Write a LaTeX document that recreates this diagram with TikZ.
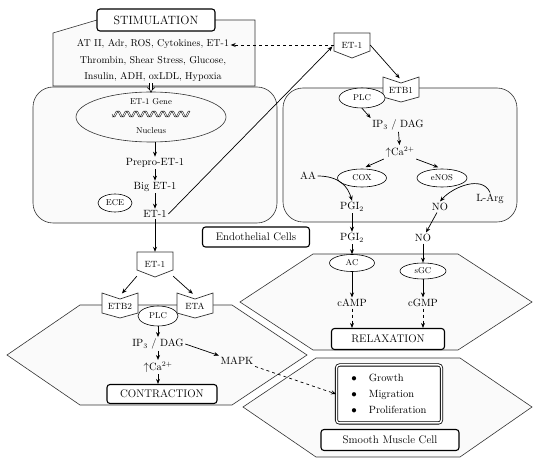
\documentclass[tikz,border=0pt]{standalone}
\usetikzlibrary{calc}
\usetikzlibrary{arrows.meta}
\usetikzlibrary{shapes.geometric}
\tikzset{
  cell/.style= {draw=black!80, fill=gray!4, line width=0.6pt},
  tag/.style= {draw, rounded corners=3pt, line width=1.1pt, fill=white, inner sep=2pt, font=\fontsize{11}{13}\selectfont},
  oval/.style= {draw, ellipse, fill=white, line width=0.6pt, inner sep=0pt, font=\fontsize{8.5}{10}\selectfont},
  txt/.style= {inner sep=1.5pt, font=\fontsize{10.5}{12}\selectfont},
  small/.style= {inner sep=1pt, font=\fontsize{8.5}{10}\selectfont},
  arr/.style= {-{Stealth[length=5pt,width=4pt]}, line width=0.7pt},
  darr/.style= {arr, dashed},
  hollow/.style= {double, double distance=2.2pt, line width=0.6pt, -{Implies}},
  recep/.style= {draw=black!80, fill=white, line width=0.7pt, line join=miter},
}
% receptor: name, position, label
\newcommand{\receptor}[3]{%
  \draw[recep] ($#2+(-18,-13)$) -- ($#2+(0,-7)$) -- ($#2+(18,-13)$) -- ($#2+(18,7)$) -- ($#2+(0,12)$) -- ($#2+(-18,7)$) -- cycle;
  \node[small, font=\fontsize{9}{10}\selectfont, minimum width=36pt, minimum height=20pt] (#1) at #2 {#3};}
% ligand: name, position, label
\newcommand{\ligand}[3]{%
  \draw[recep] ($#2+(-18,-12)$) -- ($#2+(18,-12)$) -- ($#2+(18,6)$) -- ($#2+(0,13)$) -- ($#2+(-18,6)$) -- cycle;
  \node[small, font=\fontsize{9}{10}\selectfont, minimum width=36pt, minimum height=24pt] (#1) at #2 {#3};}

\begin{document}
\begin{tikzpicture}[x=1pt, y=-1pt]
  \useasboundingbox (0,0) rectangle (550,465);

  % hexagons
  \draw[cell] (7,355) -- (80,305) -- (232,305) -- (307,355) -- (232,405) -- (80,405) -- cycle;
  \draw[cell] (240,302) -- (313,254) -- (458,254) -- (532,302) -- (458,350) -- (313,350) -- cycle;
  \draw[cell] (243,407) -- (316,358) -- (460,358) -- (532,407) -- (460,457) -- (316,457) -- cycle;

  % endothelial cells
  \draw[cell, rounded corners=20pt] (33,87) rectangle (277,223);
  \draw[cell, rounded corners=20pt] (283,88) rectangle (517,222);

  % stimulation
  \draw[cell] (53,86) -- (53,33) -- (97,20) -- (255,20) -- (255,86) -- cycle;
  \node [tag, font=\fontsize{12}{14}\selectfont, minimum width=118pt, minimum height=22pt] (stim) at (156,20) {STIMULATION} ;
  \node [txt, font=\fontsize{10}{12}\selectfont] (stimA) at (153,44) {AT II, Adr, ROS, Cytokines, ET-1} ;
  \node [txt, font=\fontsize{10}{12}\selectfont] (stimB) at (153,61) {Thrombin, Shear Stress, Glucose,} ;
  \node [txt, font=\fontsize{10}{12}\selectfont] (stimC) at (153,77) {Insulin, ADH, oxLDL, Hypoxia} ;

  % nucleus
  \node [draw=black!80, ellipse, line width=0.6pt, minimum width=150pt, minimum height=50pt] (nucleus) at (151,117) {} ;
  \node [small] (gene) at (151,102) {ET-1 Gene} ;
  \node [small] (nuclab) at (151,131) {Nucleus} ;
  \draw[line width=0.4pt] plot[domain=112:190, samples=140, smooth] (\x, {114+3*sin(40*(\x-112))});
  \draw[line width=0.4pt] plot[domain=112:190, samples=140, smooth] (\x, {114+3*sin(40*(\x-112)+70)});
  \draw[hollow] (stimC.south -| nucleus.north) -- ([yshift=-1pt]nucleus.north);

  \node [txt] (prepro) at (155,163) {Prepro-ET-1} ;
  \node [txt] (biget) at (155,187) {Big ET-1} ;
  \node [txt] (et1) at (155,214) {ET-1} ;
  \node [oval, minimum width=34pt, minimum height=18pt] (ece) at (115,203) {ECE} ;

  % ligand and ETB1
  \ligand{et1r}{(352,45)}{ET-1}
  \receptor{etb1}{(401,90)}{ETB1}

  % right endothelial cell
  \node [oval, minimum width=46pt, minimum height=20pt] (plcr) at (362,98) {PLC} ;
  \node [txt] (ip3r) at (398,125) {IP$_3$ / DAG} ;
  \node [txt] (car) at (400,152) {$\uparrow$Ca$^{2+}$} ;
  \node [oval, minimum width=49pt, minimum height=18pt] (cox) at (362,178) {COX} ;
  \node [oval, minimum width=50pt, minimum height=18pt] (enos) at (442,178) {eNOS} ;
  \node [txt] (aa) at (308,176) {AA} ;
  \node [txt] (pgi2a) at (352,207) {PGI$_2$} ;
  \node [txt] (noa) at (440,207) {NO} ;
  \node [txt] (larg) at (490,199) {L-Arg} ;
  \node [tag, minimum width=107pt, minimum height=20pt] (endo) at (256,237) {Endothelial Cells} ;

  % relaxation
  \node [txt] (pgi2b) at (352,238) {PGI$_2$} ;
  \node [txt] (nob) at (423,238) {NO} ;
  \node [oval, minimum width=45pt, minimum height=17pt] (ac) at (352,263) {AC} ;
  \node [oval, minimum width=46pt, minimum height=16pt] (sgc) at (423,271) {sGC} ;
  \node [txt] (camp) at (352,303) {cAMP} ;
  \node [txt] (cgmp) at (423,303) {cGMP} ;
  \node [tag, minimum width=113pt, minimum height=21pt] (relax) at (388,339) {RELAXATION} ;

  % contraction
  \ligand{et1l}{(155,264)}{ET-1}
  \receptor{etb2}{(120,306)}{ETB2}
  \receptor{eta}{(195,306)}{ETA}
  \node [oval, minimum width=40pt, minimum height=20pt] (plcl) at (158,316) {PLC} ;
  \node [txt] (ip3l) at (158,344) {IP$_3$ / DAG} ;
  \node [txt] (cal) at (158,367) {$\uparrow$Ca$^{2+}$} ;
  \node [tag, minimum width=110pt, minimum height=19pt] (contr) at (162,394) {CONTRACTION} ;
  \node [txt] (mapk) at (237,361) {MAPK} ;

  % smooth muscle cell
  \node [tag, line width=0.8pt, double, double distance=1.5pt, minimum width=105pt, minimum height=58pt, align=left, font=\fontsize{10.5}{16}\selectfont] (fx) at (389,394)
    {$\bullet$\hspace{12pt}Growth\\ $\bullet$\hspace{12pt}Migration\\ $\bullet$\hspace{12pt}Proliferation} ;
  \node [tag, minimum width=138pt, minimum height=21pt] (smc) at (390,440) {Smooth Muscle Cell} ;

  % connectors
  \draw[arr] (nucleus.south -| prepro) -- (prepro);
  \draw[arr] (prepro) -- (biget);
  \draw[arr] (biget) -- (et1);
  \draw[arr, shorten >=2pt] (et1.east) -- (et1r.west);
  \draw[darr] (et1r.west) -- (et1r.west -| stimA.east);
  \draw[arr, shorten >=2pt] (et1r.east) -- (etb1.north);
  \draw[arr] (plcr.south) -- (ip3r.north west);
  \draw[arr] (ip3r) -- (car);
  \draw[arr, shorten >=4pt] (car.south west) -- (cox.north);
  \draw[arr, shorten >=4pt] (car.south east) -- (enos.north);
  \draw[arr] (aa.east) .. controls +(22,0) and +(-4,-14) .. (pgi2a.north);
  \draw[arr] (larg.north) .. controls +(-8,-18) and +(12,-14) .. (noa.north);
  \draw[arr] (pgi2a) -- (pgi2b);
  \draw[arr] (noa) -- (nob);
  \draw[arr] (pgi2b) -- (ac);
  \draw[arr] (nob) -- (sgc);
  \draw[arr] (ac) -- (camp);
  \draw[arr] (sgc) -- (cgmp);
  \draw[darr] (camp) -- (camp |- relax.north);
  \draw[darr] (cgmp) -- (cgmp |- relax.north);
  \draw[arr] (et1) -- (et1l);
  \draw[arr, shorten >=3pt] (et1l.south west) -- (etb2.north);
  \draw[arr, shorten >=3pt] (et1l.south east) -- (eta.north);
  \draw[arr] (plcl) -- (ip3l);
  \draw[arr] (ip3l) -- (cal);
  \draw[arr] (cal) -- (cal |- contr.north);
  \draw[arr] (ip3l.east) -- (mapk.north west);
  \draw[darr] (mapk.south east) -- (fx.west);
\end{tikzpicture}
\end{document}
